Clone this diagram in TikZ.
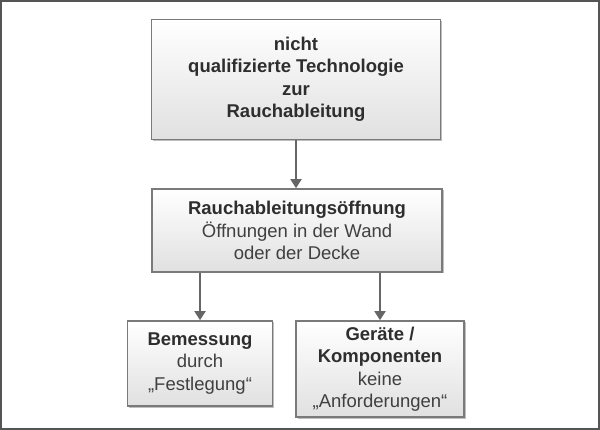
\documentclass[tikz,border=0pt]{standalone}
\usepackage{fontspec}
\setmainfont{Liberation Sans}
\usetikzlibrary{shadows,arrows.meta}
\definecolor{boxline}{HTML}{7A7A7A}
\definecolor{arrowc}{HTML}{666666}
\definecolor{txt}{HTML}{2E2E2E}
\definecolor{txtr}{HTML}{404040}
\definecolor{framec}{HTML}{555555}
\begin{document}
\begin{tikzpicture}[x=1pt,y=-1pt,
  stepbox/.style={draw=boxline, line width=1.6pt, top color=white, bottom color=black!12,
    drop shadow={shadow xshift=1.5pt, shadow yshift=-1.5pt, opacity=0.25, fill=black},
    align=center, text=txt, inner sep=0pt,
    font=\fontsize{18.5}{22.5}\selectfont},
  conn/.style={draw=arrowc, line width=1.8pt, -{Triangle[width=11pt,length=9pt]}},
]
\useasboundingbox (0,0) rectangle (600,430);
\draw[framec, line width=1.5pt] (1,1) rectangle (599,429);

\node[stepbox, minimum width=289pt, minimum height=120pt] (top) at (296,79.5)
  {\bfseries nicht\\ \bfseries qualifizierte Technologie\\ \bfseries zur\\ \bfseries Rauchableitung};
\node[stepbox, minimum width=290pt, minimum height=83pt] (mid) at (297,230.5)
  {\bfseries Rauchableitungsöffnung\\ \color{txtr}Öffnungen in der Wand\\ \color{txtr}oder der Decke};
\node[stepbox, minimum width=145pt, minimum height=85pt] (bl) at (200,363.5)
  {\bfseries Bemessung\\ \color{txtr}durch\\ \color{txtr}„Festlegung“};
\node[stepbox, minimum width=168pt, minimum height=96pt] (br) at (380,369)
  {\bfseries Geräte /\\ \bfseries Komponenten\\ \color{txtr}keine\\ \color{txtr}„Anforderungen“};

\draw[conn] (top.south) -- (top.south |- mid.north);
\draw[conn] (mid.south -| bl.north) -- (bl.north);
\draw[conn] (mid.south -| br.north) -- (br.north);
\end{tikzpicture}
\end{document}
